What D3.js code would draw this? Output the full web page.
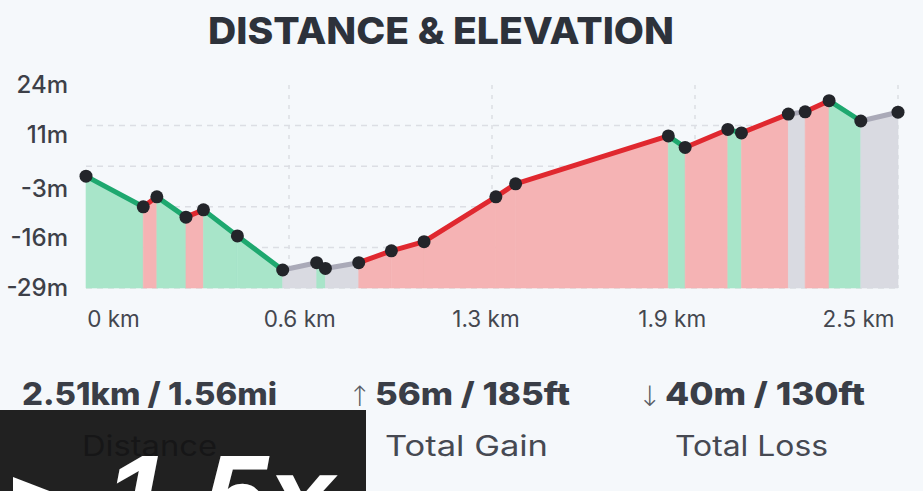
<!DOCTYPE html>
<html>
<head>
<meta charset="utf-8">
<script src="https://cdn.jsdelivr.net/npm/d3@7"></script>
<style>
  html, body { margin: 0; padding: 0; background: #f5f8fb; }
  svg { display: block; }
</style>
</head>
<body>
<svg id="chart" width="923" height="491"></svg>
<script>
// ---- data ----
const distKm = [0, 0.177, 0.219, 0.309, 0.363, 0.468, 0.608, 0.713, 0.740, 0.843, 0.944, 1.045, 1.267, 1.328, 1.800, 1.852, 1.984, 2.026, 2.171, 2.223, 2.297, 2.395, 2.51];
const elevM  = [0.2, -7.8, -5.2, -10.5, -8.6, -15.4, -24.3, -22.4, -23.9, -22.4, -19.3, -16.9, -5.2, -1.8, 10.7, 7.7, 12.4, 11.5, 16.4, 17.0, 19.9, 14.6, 16.9];
// trend of each segment between consecutive points
const segTrend = ["down","up","down","up","down","down","flat","down","flat","up","up","up","up","up","down","up","down","up","flat","up","down","flat"];
const xTickValues = [0, 0.6275, 1.255, 1.8825, 2.51];
const xTickLabels = ["0 km", "0.6 km", "1.3 km", "1.9 km", "2.5 km"];
const yTickValues = [24, 11, -3, -16, -29];
const yTickLabels = ["24m", "11m", "-3m", "-16m", "-29m"];
const yGridValues = [13.4, 2.8, -7.8, -18.4, -29];
const statValues = ["2.51km / 1.56mi", "56m / 185ft", "40m / 130ft"];
const statLabels = ["Distance", "Total Gain", "Total Loss"];
const titleText = "DISTANCE & ELEVATION";
const speedText = "1.5x";

// ---- layout ----
const svg = d3.select("#chart");
const X0 = 86, X1 = 898, Y0 = 85, Y1 = 288;
const x = d3.scaleLinear().domain([0, 2.51]).range([X0, X1]);
const y = d3.scaleLinear().domain([-29, 24]).range([Y1, Y0]);
// labels of the distance axis are spread evenly across the plot width
const xLabelScale = d3.scalePoint().domain(xTickLabels).range([113, 858]);

const lineColor = { up: "#e0282f", down: "#1ea86f", flat: "#aaaab8" };
const fillColor = { up: "#f5b3b4", down: "#a8e5c9", flat: "#d9dae1" };

function fitText(sel, len) {
  sel.attr("textLength", len).attr("lengthAdjust", "spacingAndGlyphs");
}

// title
svg.append("text")
  .attr("x", 441).attr("y", 44)
  .attr("text-anchor", "middle")
  .attr("font-family", "Inter, 'Open Sans', sans-serif")
  .attr("font-weight", 800)
  .attr("font-size", 37)
  .attr("fill", "#2d323b")
  .text(titleText)
  .call(fitText, 466);

// gridlines
const grid = svg.append("g");
grid.selectAll("line.h").data(yGridValues).join("line")
  .attr("x1", X0).attr("x2", X1)
  .attr("y1", d => y(d)).attr("y2", d => y(d))
  .attr("stroke", "#dcdee4").attr("stroke-width", 1.5)
  .attr("stroke-dasharray", "6,5");
grid.selectAll("line.v").data(xTickValues.slice(1)).join("line")
  .attr("x1", d => x(d)).attr("x2", d => x(d))
  .attr("y1", Y0).attr("y2", Y1)
  .attr("stroke", "#dcdee4").attr("stroke-width", 1.5)
  .attr("stroke-dasharray", "4,6");

// area fills per segment
const segs = segTrend.map((t, i) => ({ t, a: i, b: i + 1 }));
const area = d3.area().x(d => x(distKm[d])).y0(Y1).y1(d => y(elevM[d]));
svg.append("g").selectAll("path").data(segs).join("path")
  .attr("d", s => area([s.a, s.b]))
  .attr("fill", s => fillColor[s.t])
  .attr("stroke", s => fillColor[s.t]).attr("stroke-width", 0.6);

// line segments
const line = d3.line().x(d => x(distKm[d])).y(d => y(elevM[d]));
svg.append("g").selectAll("path").data(segs).join("path")
  .attr("d", s => line([s.a, s.b]))
  .attr("fill", "none")
  .attr("stroke", s => lineColor[s.t])
  .attr("stroke-width", 5)
  .attr("stroke-linecap", "round");

// points
svg.append("g").selectAll("circle").data(distKm).join("circle")
  .attr("cx", (d) => x(d)).attr("cy", (d, i) => y(elevM[i]))
  .attr("r", 6.5).attr("fill", "#23252a");

// axes
const axisFont = "Inter, 'Open Sans', sans-serif";
const yAxis = d3.axisLeft(y).tickValues(yTickValues).tickSize(0).tickPadding(0)
  .tickFormat((d, i) => yTickLabels[i]);
const gy = svg.append("g").attr("transform", "translate(68,0)").call(yAxis);
gy.select(".domain").remove();
gy.selectAll("text").attr("font-family", axisFont).attr("font-size", 24)
  .attr("font-weight", 500).attr("fill", "#3d4048");

const xAxis = d3.axisBottom(xLabelScale).tickSize(0).tickPadding(0);
const gx = svg.append("g").attr("transform", "translate(0,311)").call(xAxis);
gx.select(".domain").remove();
gx.selectAll("text").attr("font-family", axisFont).attr("font-size", 22.5)
  .attr("fill", "#44474f").attr("dy", "0.71em");

// stats
const statFont = "Inter, 'Open Sans', sans-serif";
svg.append("text").attr("x", 22).attr("y", 405)
  .attr("font-family", statFont).attr("font-weight", 800).attr("font-size", 31)
  .attr("fill", "#3a3e47").text(statValues[0]).call(fitText, 255);
svg.append("text").attr("x", 348).attr("y", 406)
  .attr("font-family", "'DejaVu Sans', sans-serif").attr("font-weight", 300).attr("font-size", 28)
  .attr("fill", "#5a5d66").text("↑");
svg.append("text").attr("x", 375).attr("y", 405)
  .attr("font-family", statFont).attr("font-weight", 800).attr("font-size", 31)
  .attr("fill", "#3a3e47").text(statValues[1]).call(fitText, 195);
svg.append("text").attr("x", 638).attr("y", 406)
  .attr("font-family", "'DejaVu Sans', sans-serif").attr("font-weight", 300).attr("font-size", 28)
  .attr("fill", "#5a5d66").text("↓");
svg.append("text").attr("x", 665).attr("y", 405)
  .attr("font-family", statFont).attr("font-weight", 800).attr("font-size", 31)
  .attr("fill", "#3a3e47").text(statValues[2]).call(fitText, 200);

const labelX = [[82, 135], [385, 163], [675, 153]];
statLabels.forEach((t, i) => {
  svg.append("text").attr("x", labelX[i][0]).attr("y", 456)
    .attr("font-family", statFont).attr("font-weight", 400).attr("font-size", 28)
    .attr("fill", "#464952").text(t).call(fitText, labelX[i][1]);
});

// playback overlay
svg.append("rect").attr("x", 0).attr("y", 410).attr("width", 366).attr("height", 81)
  .attr("fill", "#131313").attr("opacity", 0.94);
svg.append("path").attr("d", "M13,477 L13,577 L143,527 Z").attr("fill", "#ffffff");
svg.append("text").attr("x", 104).attr("y", 538)
  .attr("font-family", "'Liberation Sans', Arial, sans-serif")
  .attr("font-weight", 700).attr("font-style", "italic").attr("font-size", 118)
  .attr("fill", "#ffffff").text(speedText);
</script>
</body>
</html>
